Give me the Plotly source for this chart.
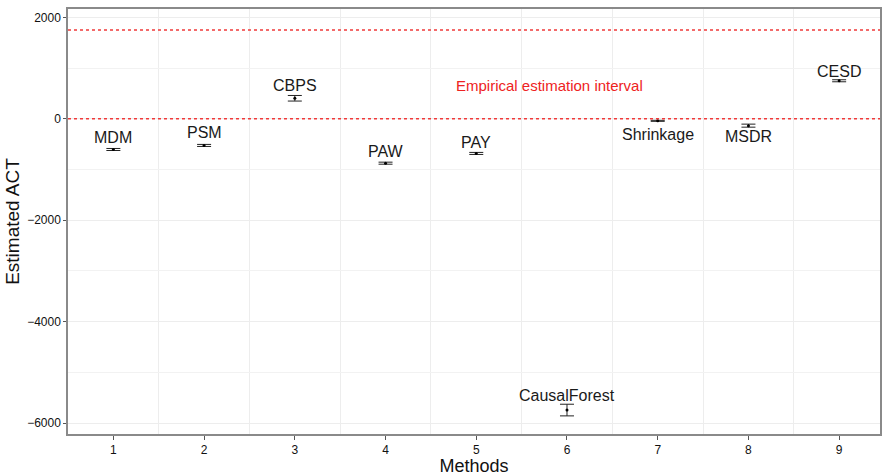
import plotly.graph_objects as go

methods = [1, 2, 3, 4, 5, 6, 7, 8, 9]
names = ["MDM", "PSM", "CBPS", "PAW", "PAY", "CausalForest", "Shrinkage", "MSDR", "CESD"]
estimates = [-605, -525, 405, -875, -683, -5743, -40, -135, 750]
errors = [20, 20, 55, 20, 20, 115, 10, 30, 20]
interval_low = 0
interval_high = 1750
interval_label = "Empirical estimation interval"
interval_label_x = 5.81
interval_label_y = 660
y_ticks = [2000, 0, -2000, -4000, -6000]

# label vertical offsets (pixels) – styling only
label_shift = [12, 13, 13, 12, 11, 15, -14, -11, 9]

fig = go.Figure()

fig.add_trace(go.Scatter(
    x=methods, y=estimates, mode="markers",
    marker=dict(color="black", size=3),
    error_y=dict(type="data", array=errors, visible=True,
                 color="#222222", thickness=1, width=7),
    showlegend=False, hoverinfo="skip",
))

for yv in (interval_low, interval_high):
    fig.add_shape(type="line", xref="paper", x0=0, x1=1, yref="y", y0=yv, y1=yv,
                  line=dict(color="#f03a3a", width=1.5, dash="dot"))

for x, y, n, s in zip(methods, estimates, names, label_shift):
    fig.add_annotation(x=x, y=y, text=n, showarrow=False, yanchor="middle",
                       yshift=s, font=dict(family="Liberation Sans, Arial", size=16, color="#1a1a1a"))

fig.add_annotation(x=interval_label_x, y=interval_label_y, text=interval_label, showarrow=False,
                   font=dict(family="Liberation Sans, Arial", size=15, color="#ee2222"))

fig.update_layout(
    width=884, height=476,
    margin=dict(l=68, r=2, t=9, b=38),
    paper_bgcolor="white", plot_bgcolor="white",
    font=dict(family="Liberation Sans, Arial", color="#1a1a1a"),
)
fig.update_xaxes(
    range=[0.5, 9.45], tickmode="array", tickvals=methods, ticktext=[str(m) for m in methods],
    showgrid=False, zeroline=False,
    showline=True, linecolor="#8a8a8a", linewidth=1.5, mirror=True,
    ticks="outside", ticklen=4, tickcolor="#555",
    tickfont=dict(size=12, color="#111"),
    minor=dict(tickvals=[m + 0.5 for m in methods[:-1]], showgrid=True, gridcolor="#ededed", gridwidth=1),
    title=dict(text="Methods", font=dict(size=18, color="#111"), standoff=4),
)
fig.update_yaxes(
    range=[-6215, 2165], tickmode="array", tickvals=y_ticks,
    showgrid=True, gridcolor="#ededed", gridwidth=1, zeroline=False,
    showline=True, linecolor="#8a8a8a", linewidth=1.5, mirror=True,
    ticks="outside", ticklen=3, tickcolor="#555",
    tickfont=dict(size=12, color="#111"),
    minor=dict(dtick=1000, tick0=1000, showgrid=True, gridcolor="#f2f2f2", gridwidth=1),
    title=dict(text="Estimated ACT", font=dict(size=19, color="#111"), standoff=2),
)

fig.write_html("out.html")
